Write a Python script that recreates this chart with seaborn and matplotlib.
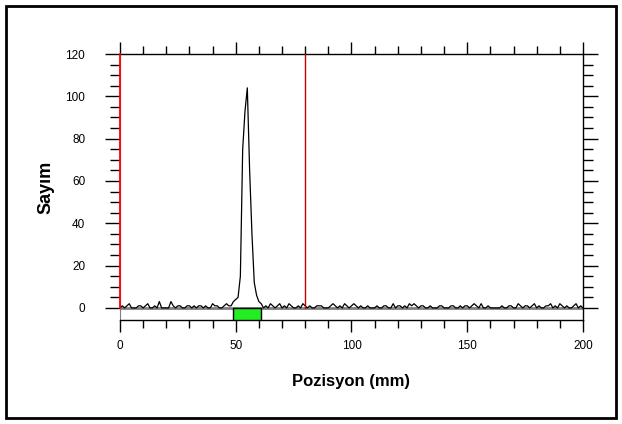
import numpy as np
import pandas as pd
import matplotlib
matplotlib.use("Agg")
import matplotlib.pyplot as plt
import seaborn as sns
from matplotlib.patches import Rectangle
from matplotlib.ticker import MultipleLocator, FixedLocator

# counts per position (1 mm steps, 0..200)
baseline_left = [0, 1, 0, 1, 2, 0, 0, 0, 1, 1, 0, 1, 2, 0, 0, 1, 0, 3, 0, 0,
                 0, 0, 3, 1, 0, 1, 1, 0, 0, 1, 1, 0, 1, 0, 1, 1, 0, 1, 0, 0,
                 2, 1, 1, 0, 0, 1, 2, 1, 1]
peak = [3, 4, 5, 15, 75, 93, 104, 65, 35, 12, 6, 3, 2]
baseline_right = [0, 1, 0, 2, 1, 0, 1, 2, 0, 1, 0, 2, 1, 0, 0, 1, 0, 2, 1, 0,
                  1, 0, 0, 1, 1, 1, 0, 0, 0, 1, 2, 1, 0, 1, 0, 2, 1, 0, 1, 2,
                  1, 0, 1, 0, 0, 1, 0, 0, 0, 1, 0, 0, 1, 1, 0, 0, 2, 0, 1, 1,
                  0, 1, 0, 2, 1, 2, 1, 0, 1, 1, 0, 0, 1, 0, 0, 0, 1, 1, 0, 0,
                  0, 1, 1, 0, 0, 1, 0, 1, 1, 0, 1, 2, 1, 0, 2, 0, 0, 1, 0, 0,
                  0, 0, 0, 1, 0, 0, 1, 1, 0, 0, 2, 1, 0, 1, 1, 0, 1, 2, 0, 1,
                  0, 0, 1, 1, 2, 0, 1, 0, 2, 1, 0, 1, 0, 0, 1, 2, 0, 1, 0]
counts = baseline_left + peak + baseline_right
positions = list(range(len(counts)))

marker_lines = [0, 80]
marker_colors = ["#ff0000", "#c80000"]
region_start, region_end = 49, 61
y_bottom = -5.7

df = pd.DataFrame({"Pozisyon": positions, "Sayim": counts})

sns.set_style("ticks")
plt.rcParams["font.family"] = ["Liberation Sans", "DejaVu Sans"]
plt.rcParams["text.color"] = "black"
plt.rcParams["axes.labelcolor"] = "black"
plt.rcParams["xtick.color"] = "black"
plt.rcParams["ytick.color"] = "black"

fig = plt.figure(figsize=(6.22, 4.24), dpi=100)
ax = fig.add_axes([0.1929, 0.2453, 0.7444, 0.6273])

ax.axhline(0, color="#808080", lw=2, zorder=1)
sns.lineplot(data=df, x="Pozisyon", y="Sayim", color="black", lw=0.9, ax=ax, zorder=3)

for xv, c in zip(marker_lines, marker_colors):
    ax.plot([xv, xv], [0, 120], color=c, lw=1.3 if xv == 0 else 1.0, zorder=4, clip_on=False)

ax.fill_between([region_start, region_end], y_bottom, 0, facecolor="#22ee22",
                edgecolor="black", lw=1, zorder=5)

ax.set_xlim(0, 200)
ax.set_ylim(y_bottom, 120)
ax.xaxis.set_major_locator(MultipleLocator(50))
ax.xaxis.set_minor_locator(MultipleLocator(10))
ax.yaxis.set_major_locator(FixedLocator(range(0, 121, 20)))
ax.yaxis.set_minor_locator(FixedLocator(range(0, 121, 5)))

ax.tick_params(axis="x", which="both", direction="out", top=True, bottom=True,
               labelsize=8.5, pad=6, width=1)
ax.tick_params(axis="x", which="major", length=8.5)
ax.tick_params(axis="x", which="minor", length=5.5)
ax.tick_params(axis="y", which="both", direction="out", left=True, right=True,
               labelsize=8.5, pad=14, width=1)
ax.tick_params(axis="y", which="major", length=11)
ax.tick_params(axis="y", which="minor", length=7)

for s in ["top", "right", "bottom"]:
    ax.spines[s].set_color("black")
    ax.spines[s].set_linewidth(1)
ax.spines["left"].set_color("#808080")

ax.set_xlabel("Pozisyon (mm)", fontsize=12, fontweight="bold", labelpad=16)
ax.set_ylabel("Sayım", fontsize=13, fontweight="bold", labelpad=8)

fig.patches.append(Rectangle((0.0096, 0.014), 0.9808, 0.972, transform=fig.transFigure,
                             fill=False, edgecolor="black", lw=2))

fig.savefig("out.png", dpi=100)
